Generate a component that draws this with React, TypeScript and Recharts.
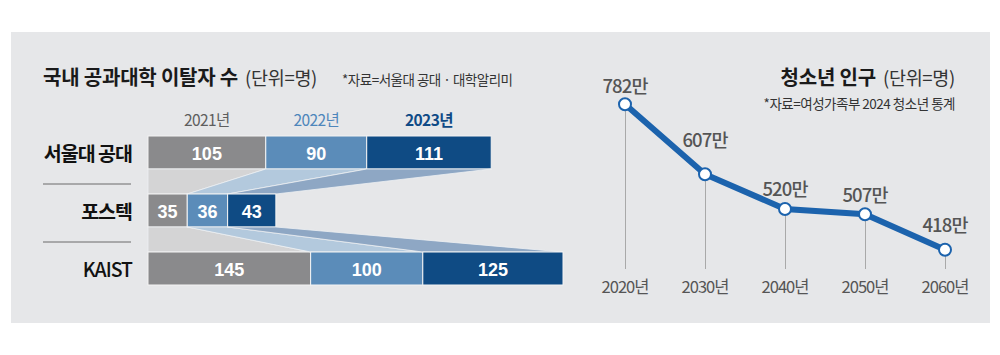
import React from 'react';
import { BarChart, Bar, XAxis, YAxis, ComposedChart, Line } from 'recharts';

// 국내 공과대학 이탈자 수 (단위=명)
const schools = ['서울대 공대', '포스텍', 'KAIST'];
const yearLabels = ['2021년', '2022년', '2023년'];
const dropouts2021 = [105, 35, 145];
const dropouts2022 = [90, 36, 100];
const dropouts2023 = [111, 43, 125];

// 청소년 인구 (만 명)
const popYears = [2020, 2030, 2040, 2050, 2060];
const youthPop = [782, 607, 520, 507, 418];

const KR = "'Noto Sans CJK KR', 'Noto Sans', sans-serif";
const NUM = "'Liberation Sans', Arial, sans-serif";

const seriesKeys = ['y2021', 'y2022', 'y2023'];
const barColors = ['#8a8a8c', '#5b8cb9', '#0f4b84'];
const linkColors = ['#d4d4d5', '#b3c9dd', '#8ea7c4'];
const headColors = ['#5e5e5e', '#4d86bb', '#0f4a86'];
const lineBlue = '#1c63ad';
const labelLift = [19, 35, 21, 20, 26];

const barData = schools.map((name, i) => ({
  name,
  y2021: dropouts2021[i],
  y2022: dropouts2022[i],
  y2023: dropouts2023[i],
}));

const popData = popYears.map((year, i) => ({ year, pop: youthPop[i] }));

// rects of the previous row, so each row can draw its connector up to it
const rowRects: Record<string, { x: number; y: number; w: number; h: number }> = {};

const makeShape = (s: number) => (props: any) => {
  const { x, y, width, height, index, payload } = props;
  rowRects[`${s}-${index}`] = { x, y, w: width, h: height };
  const prev = index > 0 ? rowRects[`${s}-${index - 1}`] : undefined;
  const value = payload[seriesKeys[s]];
  return (
    <g>
      {prev && (
        <polygon
          points={`${prev.x},${prev.y + prev.h} ${prev.x + prev.w},${prev.y + prev.h} ${x + width},${y} ${x},${y}`}
          fill={linkColors[s]}
          stroke="#eef0f2"
          strokeWidth={0.8}
        />
      )}
      <rect x={x} y={y} width={width} height={height} fill={barColors[s]} stroke="#f4f4f4" strokeWidth={1} />
      <text
        x={x + width / 2}
        y={y + height / 2 + 1}
        textAnchor="middle"
        dominantBaseline="central"
        fill="#fff"
        fontFamily={NUM}
        fontWeight="bold"
        fontSize={18}
      >
        {value}
      </text>
      {index === 0 && (
        <text
          x={x + width / 2}
          y={y - 17}
          textAnchor="middle"
          dominantBaseline="central"
          fill={headColors[s]}
          fontFamily={KR}
          fontWeight={s === 2 ? 700 : 400}
          fontSize={15.5}
          letterSpacing={-0.6}
        >
          {yearLabels[s]}
        </text>
      )}
    </g>
  );
};

const SchoolTick = (props: any) => {
  const { x, y, payload, index } = props;
  const isLatin = /^[A-Z]+$/.test(payload.value);
  return (
    <g>
      <text
        x={x}
        y={y}
        textAnchor="end"
        dominantBaseline="central"
        fill="#111"
        fontFamily={KR}
        fontWeight={isLatin ? 500 : 700}
        fontSize={19.5}
        letterSpacing={-1}
      >
        {payload.value}
      </text>
      {index < schools.length - 1 && (
        <line x1={x - 89} x2={x - 1} y1={y + 32} y2={y + 32} stroke="#6b6b6b" strokeWidth={1} />
      )}
    </g>
  );
};

const renderDot = (props: any) => {
  const { cx, cy, index, payload } = props;
  return (
    <g key={`dot-${index}`}>
      <circle cx={cx} cy={cy} r={6} fill="#fff" stroke={lineBlue} strokeWidth={2} />
      <text
        x={cx}
        y={cy - labelLift[index]}
        textAnchor="middle"
        dominantBaseline="central"
        fill="#555"
        fontFamily={KR}
        fontWeight={500}
        fontSize={18.5}
        letterSpacing={-0.9}
      >
        {`${payload.pop}만`}
      </text>
    </g>
  );
};

const unitStyle: React.CSSProperties = { fontSize: 18.5, color: '#333', letterSpacing: -0.3, marginLeft: 7 };

const App: React.FC = () => {
  return (
    <div style={{ position: 'absolute', left: 0, top: 0, width: 1000, height: 355, background: '#fff', fontFamily: KR }}>
      <div style={{ position: 'absolute', left: 11, top: 32, width: 979, height: 291, background: '#e6e7e9' }} />

      {/* left titles */}
      <div style={{ position: 'absolute', left: 43, top: 64, height: 26, lineHeight: '26px', whiteSpace: 'nowrap', color: '#1a1a1a' }}>
        <span style={{ fontSize: 20, fontWeight: 700, letterSpacing: -0.2 }}>국내 공과대학 이탈자 수</span>
        <span style={unitStyle}>(단위=명)</span>
      </div>
      <div style={{ position: 'absolute', left: 342, top: 70, height: 18, lineHeight: '18px', fontSize: 13.5, letterSpacing: -0.5, color: '#333', whiteSpace: 'nowrap' }}>
        *자료=서울대 공대 · 대학알리미
      </div>

      {/* right titles */}
      <div style={{ position: 'absolute', right: 45, top: 64, height: 26, lineHeight: '26px', whiteSpace: 'nowrap', color: '#1a1a1a', textAlign: 'right' }}>
        <span style={{ fontSize: 20, fontWeight: 700, letterSpacing: -0.2 }}>청소년 인구</span>
        <span style={unitStyle}>(단위=명)</span>
      </div>
      <div style={{ position: 'absolute', right: 45, top: 94, height: 18, lineHeight: '18px', fontSize: 13.5, letterSpacing: -0.5, color: '#333', whiteSpace: 'nowrap', textAlign: 'right' }}>
        *자료=여성가족부 2024 청소년 통계
      </div>

      <div style={{ position: 'absolute', left: 0, top: 0 }}>
        <BarChart
          width={600}
          height={355}
          data={barData}
          layout="vertical"
          margin={{ top: 123, right: 37, bottom: 58, left: 48 }}
          barSize={33}
        >
          <XAxis type="number" hide domain={[0, 370]} />
          <YAxis
            type="category"
            dataKey="name"
            width={100}
            axisLine={false}
            tickLine={false}
            tickSize={0}
            tickMargin={16}
            tick={<SchoolTick />}
            interval={0}
          />
          {seriesKeys.map((k, s) => (
            <Bar key={k} dataKey={k} stackId="a" shape={makeShape(s)} isAnimationActive={false} />
          ))}
        </BarChart>
      </div>

      <div style={{ position: 'absolute', left: 560, top: 0 }}>
        <ComposedChart width={440} height={355} data={popData} margin={{ top: 77, right: 55, bottom: 56, left: 65 }}>
          <XAxis
            dataKey="year"
            type="number"
            domain={[2020, 2060]}
            ticks={popYears}
            interval={0}
            height={30}
            axisLine={false}
            tickLine={false}
            tickSize={0}
            tickMargin={12}
            tickFormatter={(v: number) => `${v}년`}
            tick={{ fill: '#555', fontSize: 16.5, fontFamily: KR, letterSpacing: -1 }}
          />
          <YAxis type="number" hide domain={[370, 850]} />
          <Bar dataKey="pop" barSize={1} fill="#a9a9a9" isAnimationActive={false} />
          <Line
            dataKey="pop"
            type="linear"
            stroke={lineBlue}
            strokeWidth={6}
            dot={renderDot}
            activeDot={false}
            isAnimationActive={false}
          />
        </ComposedChart>
      </div>
    </div>
  );
};

export default App;
